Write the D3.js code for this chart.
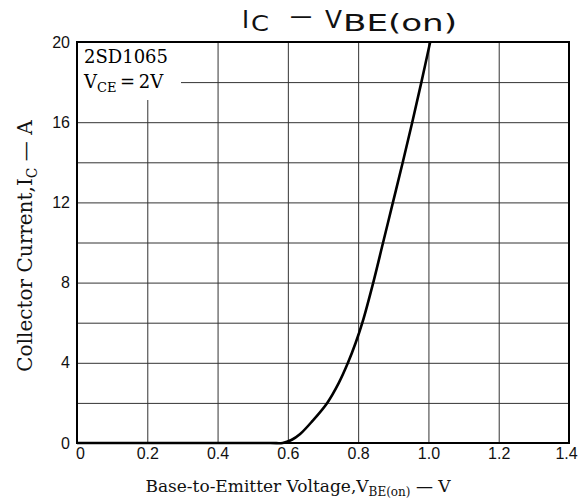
<!DOCTYPE html>
<html>
<head>
<meta charset="utf-8">
<script src="https://cdn.jsdelivr.net/npm/d3@7"></script>
<style>
  html, body { margin: 0; padding: 0; background: #fff; }
  svg { display: block; }
</style>
</head>
<body>
<div id="chart"></div>
<script>
// curve
var vbe = [0, 0.55, 0.585, 0.61, 0.635, 0.67, 0.712, 0.745, 0.771, 0.793, 0.812, 0.843, 0.871, 0.899, 0.927, 0.954, 0.980, 1.005];
var ic  = [0, 0,    0,     0.15, 0.45,  1.1,  2.0,   3.0,   4.0,   5.0,   6.0,   8.0,   10.0,  12.0,  14.0,  16.0,  18.0,  20.0];

var xTicks = [0, 0.2, 0.4, 0.6, 0.8, 1.0, 1.2, 1.4];
var xTickLabels = ["0", "0.2", "0.4", "0.6", "0.8", "1.0", "1.2", "1.4"];
var yTicks = [0, 4, 8, 12, 16, 20];
var yGrid = [2, 4, 6, 8, 10, 12, 14, 16, 18];

var W = 579, H = 502;
var plot = {left: 77, right: 569, top: 42, bottom: 443};

var svg = d3.select('#chart').append('svg')
    .attr('width', W)
    .attr('height', H);

var x = d3.scaleLinear().domain([0, 1.4]).range([plot.left, plot.right]);
var y = d3.scaleLinear().domain([0, 20]).range([plot.bottom, plot.top]);

var serif = "'DejaVu Serif', serif";
var sans = "'Liberation Sans', Arial, sans-serif";
var titleFont = "'DejaVu Sans', sans-serif";

// grid lines
svg.append('g')
    .attr('transform', 'translate(0,' + plot.bottom + ')')
    .call(d3.axisBottom(x).tickValues(xTicks.slice(1, -1)).tickSize(-(plot.bottom - plot.top)).tickFormat(''))
    .call(function(g) { g.select('.domain').remove(); })
    .selectAll('line').attr('stroke', '#333').attr('stroke-width', 1);

svg.append('g')
    .attr('transform', 'translate(' + plot.left + ',0)')
    .call(d3.axisLeft(y).tickValues(yGrid).tickSize(-(plot.right - plot.left)).tickFormat(''))
    .call(function(g) { g.select('.domain').remove(); })
    .selectAll('line').attr('stroke', '#333').attr('stroke-width', 1);

// tick labels
var xAxis = svg.append('g')
    .attr('transform', 'translate(0,' + plot.bottom + ')')
    .call(d3.axisBottom(x).tickValues(xTicks).tickSize(0).tickPadding(5)
        .tickFormat(function(d, i) { return xTickLabels[i]; }));
xAxis.select('.domain').remove();
xAxis.selectAll('text')
    .attr('font-family', sans).attr('font-size', 16).attr('fill', '#111');
xAxis.selectAll('.tick').filter(function(d) { return d === 0; }).select('text').attr('dx', 3);
xAxis.selectAll('.tick').filter(function(d) { return d === 1.4; }).select('text').attr('dx', -3);

var yAxis = svg.append('g')
    .attr('transform', 'translate(' + plot.left + ',0)')
    .call(d3.axisLeft(y).tickValues(yTicks).tickSize(0).tickPadding(7));
yAxis.select('.domain').remove();
yAxis.selectAll('text')
    .attr('font-family', sans).attr('font-size', 16).attr('fill', '#111');

// annotation box (covers the grid)
svg.append('rect')
    .attr('x', plot.left + 1).attr('y', plot.top + 1)
    .attr('width', 103).attr('height', 57)
    .attr('fill', '#fff');

svg.append('text')
    .attr('x', 84).attr('y', 63)
    .attr('font-family', serif).attr('font-size', 18)
    .text('2SD1065');

var vce = svg.append('text')
    .attr('x', 84).attr('y', 88)
    .attr('font-family', serif).attr('font-size', 18);
vce.append('tspan').text('V');
vce.append('tspan').attr('font-size', 13).attr('dy', 4).text('CE');
vce.append('tspan').attr('dy', -4).text('\u2009=\u20092V');

// frame
svg.append('rect')
    .attr('x', plot.left).attr('y', plot.top)
    .attr('width', plot.right - plot.left).attr('height', plot.bottom - plot.top)
    .attr('fill', 'none').attr('stroke', '#000').attr('stroke-width', 2);

// curve
var pts = vbe.map(function(v, i) { return [v, ic[i]]; });
var line = d3.line()
    .x(function(d) { return x(d[0]); })
    .y(function(d) { return Math.min(y(d[1]), plot.bottom); })
    .curve(d3.curveCatmullRom.alpha(0.5));

svg.append('path')
    .datum(pts)
    .attr('d', line)
    .attr('fill', 'none')
    .attr('stroke', '#000')
    .attr('stroke-width', 2.6)
    .attr('stroke-linejoin', 'round');

// title, wide lettering as in the scan
var title = svg.append('g')
    .attr('font-family', titleFont)
    .attr('fill', '#111');
title.append('text').attr('x', 242).attr('y', 28).attr('font-size', 24).text('I');
title.append('text').attr('x', 251).attr('y', 31).attr('font-size', 22)
    .attr('textLength', 18).attr('lengthAdjust', 'spacingAndGlyphs').text('C');
title.append('text').attr('x', 290).attr('y', 24).attr('font-size', 24)
    .attr('textLength', 22).attr('lengthAdjust', 'spacingAndGlyphs').text('\u2014');
title.append('text').attr('x', 325).attr('y', 28).attr('font-size', 24)
    .attr('textLength', 17).attr('lengthAdjust', 'spacingAndGlyphs').text('V');
title.append('text').attr('x', 343).attr('y', 31).attr('font-size', 23)
    .attr('textLength', 114).attr('lengthAdjust', 'spacingAndGlyphs').text('BE(on)');

// x axis title
var xt = svg.append('text')
    .attr('x', 298).attr('y', 492)
    .attr('text-anchor', 'middle')
    .attr('font-family', serif).attr('font-size', 17)
    .attr('fill', '#111');
xt.append('tspan').text('Base-to-Emitter Voltage,V');
xt.append('tspan').attr('font-size', 12).attr('dy', 4).text('BE(on)');
xt.append('tspan').attr('dy', -4).text(' \u2014 V');

// y axis title
var yt = svg.append('text')
    .attr('transform', 'translate(32,246) rotate(-90)')
    .attr('text-anchor', 'middle')
    .attr('font-family', serif).attr('font-size', 20)
    .attr('fill', '#111');
yt.append('tspan').text('Collector Current,I');
yt.append('tspan').attr('font-size', 14).attr('dy', 5).text('C');
yt.append('tspan').attr('dy', -5).text(' \u2014 A');
</script>
</body>
</html>
